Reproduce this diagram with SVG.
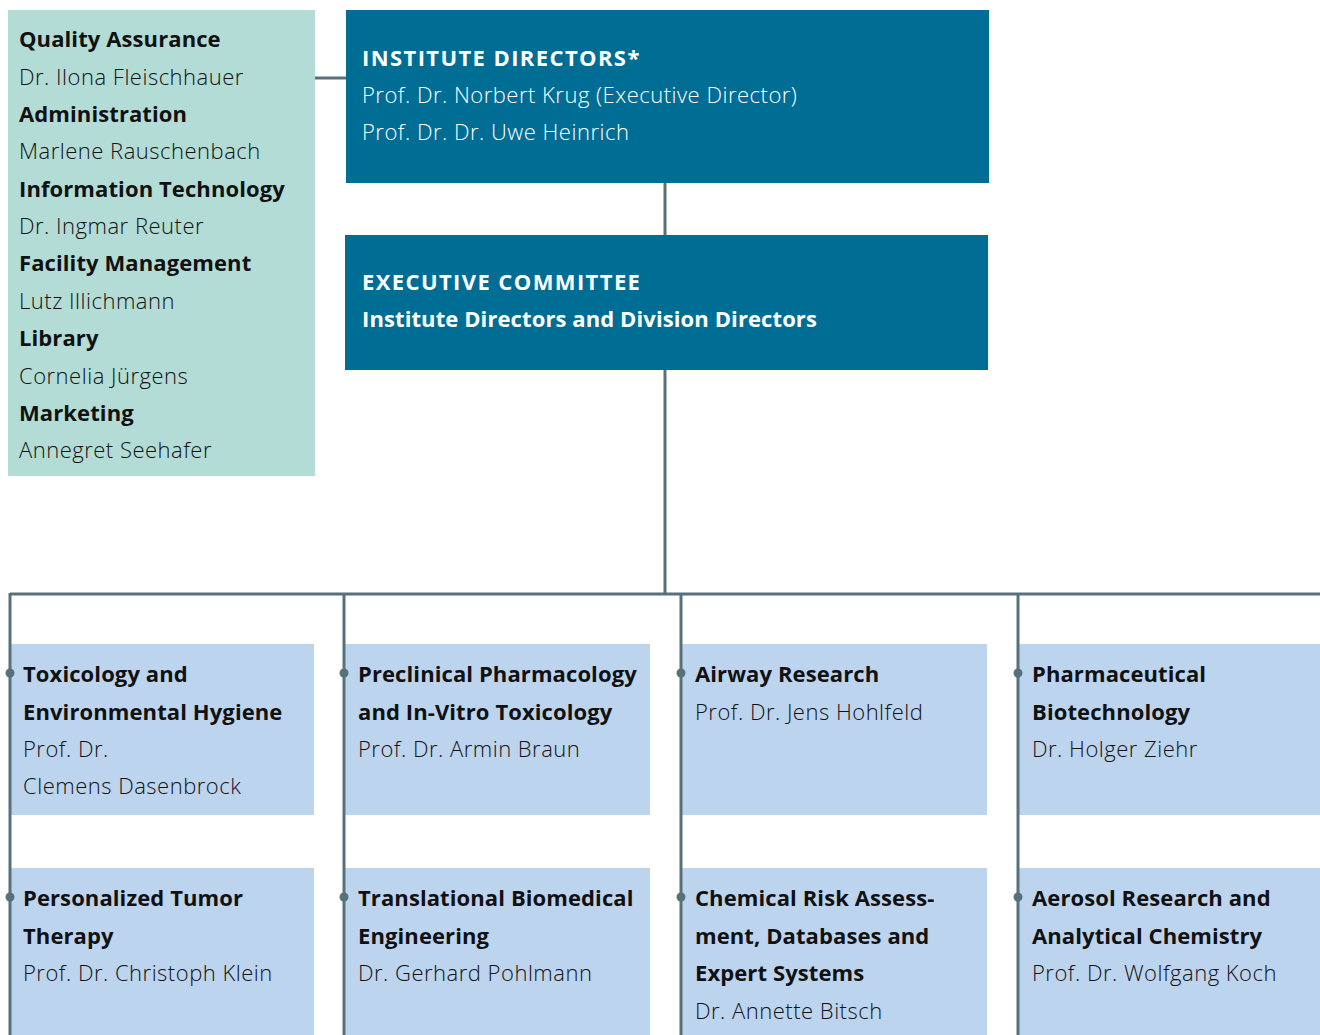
<svg xmlns="http://www.w3.org/2000/svg" width="1320" height="1035" viewBox="0 0 1320 1035">
<style>
text{font-family:"Open Sans","Liberation Sans",sans-serif;font-size:22px;}
.b{font-weight:700;fill:#111;letter-spacing:0.1px;}
.n{font-weight:300;fill:#111;letter-spacing:0.5px;}
.wb{font-weight:700;fill:#fff;letter-spacing:0.1px;}
.cap{letter-spacing:1.4px;}
.wn{font-weight:300;fill:#fff;letter-spacing:0.5px;}
.staff{fill:#b2dcd5;}
.dir{fill:#006e94;}
.div{fill:#bdd4ee;}
.ln{stroke:#56707c;stroke-width:3;fill:none;}
.dot{fill:#56707c;}
</style>
<g id="staff">
<rect class="staff" x="8" y="10" width="307" height="466"/>
<text x="19" y="47" class="b">Quality Assurance</text>
<text x="19" y="85" class="n">Dr. Ilona Fleischhauer</text>
<text x="19" y="122" class="b">Administration</text>
<text x="19" y="159" class="n">Marlene Rauschenbach</text>
<text x="19" y="197" class="b">Information Technology</text>
<text x="19" y="234" class="n">Dr. Ingmar Reuter</text>
<text x="19" y="271" class="b">Facility Management</text>
<text x="19" y="309" class="n">Lutz Illichmann</text>
<text x="19" y="346" class="b">Library</text>
<text x="19" y="384" class="n">Cornelia Jürgens</text>
<text x="19" y="421" class="b">Marketing</text>
<text x="19" y="458" class="n">Annegret Seehafer</text>
</g>
<g id="institute-directors">
<rect class="dir" x="346" y="10" width="643" height="173"/>
<text x="362" y="66" class="wb cap">INSTITUTE DIRECTORS*</text>
<text x="362" y="103" class="wn">Prof. Dr. Norbert Krug (Executive Director)</text>
<text x="362" y="140" class="wn">Prof. Dr. Dr. Uwe Heinrich</text>
</g>
<g id="executive-committee">
<rect class="dir" x="345" y="235" width="643" height="135"/>
<text x="362" y="290" class="wb cap">EXECUTIVE COMMITTEE</text>
<text x="362" y="327" class="wb">Institute Directors and Division Directors</text>
</g>
<g id="div-toxicology">
<rect class="div" x="11" y="644" width="303" height="171"/>
<text x="23" y="682" class="b">Toxicology and</text>
<text x="23" y="720" class="b">Environmental Hygiene</text>
<text x="23" y="757" class="n">Prof. Dr.</text>
<text x="23" y="794" class="n">Clemens Dasenbrock</text>
</g>
<g id="div-preclinical">
<rect class="div" x="345" y="644" width="305" height="171"/>
<text x="358" y="682" class="b">Preclinical Pharmacology</text>
<text x="358" y="720" class="b">and In-Vitro Toxicology</text>
<text x="358" y="757" class="n">Prof. Dr. Armin Braun</text>
</g>
<g id="div-airway">
<rect class="div" x="682" y="644" width="305" height="171"/>
<text x="695" y="682" class="b">Airway Research</text>
<text x="695" y="720" class="n">Prof. Dr. Jens Hohlfeld</text>
</g>
<g id="div-biotech">
<rect class="div" x="1019" y="644" width="301" height="171"/>
<text x="1032" y="682" class="b">Pharmaceutical</text>
<text x="1032" y="720" class="b">Biotechnology</text>
<text x="1032" y="757" class="n">Dr. Holger Ziehr</text>
</g>
<g id="div-tumor">
<rect class="div" x="11" y="868" width="303" height="167"/>
<text x="23" y="906" class="b">Personalized Tumor</text>
<text x="23" y="944" class="b">Therapy</text>
<text x="23" y="981" class="n">Prof. Dr. Christoph Klein</text>
</g>
<g id="div-translational">
<rect class="div" x="345" y="868" width="305" height="167"/>
<text x="358" y="906" class="b">Translational Biomedical</text>
<text x="358" y="944" class="b">Engineering</text>
<text x="358" y="981" class="n">Dr. Gerhard Pohlmann</text>
</g>
<g id="div-chemical">
<rect class="div" x="682" y="868" width="305" height="167"/>
<text x="695" y="906" class="b">Chemical Risk Assess-</text>
<text x="695" y="944" class="b">ment, Databases and</text>
<text x="695" y="981" class="b">Expert Systems</text>
<text x="695" y="1019" class="n">Dr. Annette Bitsch</text>
</g>
<g id="div-aerosol">
<rect class="div" x="1019" y="868" width="301" height="167"/>
<text x="1032" y="906" class="b">Aerosol Research and</text>
<text x="1032" y="944" class="b">Analytical Chemistry</text>
<text x="1032" y="981" class="n">Prof. Dr. Wolfgang Koch</text>
</g>
<g id="connectors">
<line class="ln" x1="315" y1="78" x2="346" y2="78"/>
<line class="ln" x1="665" y1="183" x2="665" y2="235"/>
<line class="ln" x1="665" y1="370" x2="665" y2="594"/>
<line class="ln" x1="10" y1="594" x2="1320" y2="594"/>
<line class="ln" x1="10" y1="593" x2="10" y2="1035"/>
<line class="ln" x1="344" y1="594" x2="344" y2="1035"/>
<line class="ln" x1="681" y1="594" x2="681" y2="1035"/>
<line class="ln" x1="1018" y1="594" x2="1018" y2="1035"/>
<circle class="dot" cx="10" cy="673" r="4.5"/>
<circle class="dot" cx="344" cy="673" r="4.5"/>
<circle class="dot" cx="681" cy="673" r="4.5"/>
<circle class="dot" cx="1018" cy="673" r="4.5"/>
<circle class="dot" cx="10" cy="897" r="4.5"/>
<circle class="dot" cx="344" cy="897" r="4.5"/>
<circle class="dot" cx="681" cy="897" r="4.5"/>
<circle class="dot" cx="1018" cy="897" r="4.5"/>
</g>
</svg>
